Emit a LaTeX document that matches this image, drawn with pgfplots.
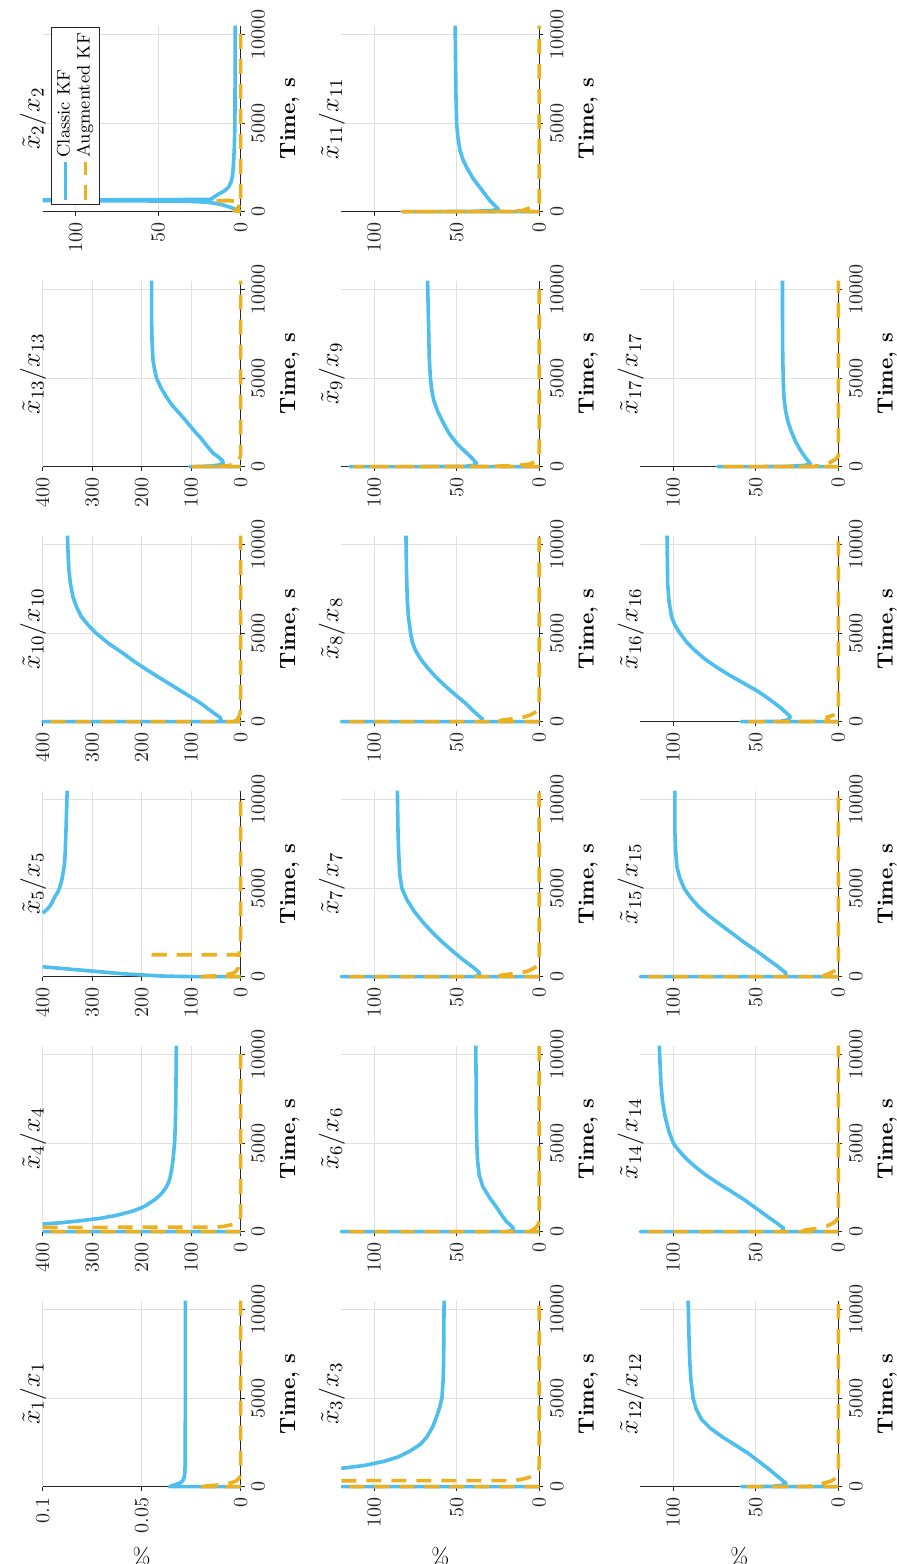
\RequirePackage{fix-cm}
\documentclass[border=0pt]{standalone}
\usepackage{pgfplots}
\pgfplotsset{compat=1.18}
\definecolor{kfblue}{RGB}{77,190,238}
\definecolor{kforange}{RGB}{237,177,32}
\tikzset{
  kfb/.style={color=kfblue, line width=1.8pt, line join=round},
  kfo/.style={color=kforange, line width=1.8pt, line join=round, dash pattern=on 7.5pt off 5pt},
}
\pgfplotsset{
  kfbase/.style={
    scale only axis, width=93pt, height=99pt, anchor=south west,
    xmin=0, xmax=10500, ymin=0,
    xtick={0,5000,10000}, scaled x ticks=false, scaled y ticks=false,
    xticklabel style={/pgf/number format/1000 sep={}},
    axis lines*=left,
    axis line style={black!85, line width=0.5pt},
    tick style={black!85, line width=0.5pt}, tick align=outside, major tick length=2pt,
    grid=major, grid style={black!12, line width=0.5pt},
    tick label style={font=\fontsize{10}{12}\selectfont, color=black!85},
    every axis title/.style={at={(axis description cs:0.5,1.015)}, anchor=base, font=\fontsize{13}{15}\selectfont},
    xlabel={\textbf{Time, s}},
    every axis x label/.style={at={(axis description cs:0.5,0)}, anchor=base, yshift=-27.2pt, font=\fontsize{11}{13}\selectfont},
    every axis y label/.style={at={(axis description cs:-0.372,0.5)}, anchor=center, rotate=90, font=\fontsize{11}{13}\selectfont},
    clip=false, unbounded coords=jump,
  },
  y400/.style={ymax=400, ytick={0,100,200,300,400}},
  y120/.style={ymax=120, ytick={0,50,100}},
}
\begin{document}
\begin{tikzpicture}
\useasboundingbox (-448.5pt,0pt) rectangle (0pt,782pt);
\begin{pgfinterruptboundingbox}
\begin{scope}[transform canvas={rotate=90}]
% ---------------- row 1 ----------------
\begin{axis}[kfbase, at={(38.65pt,328.15pt)}, ymax=0.1, ytick={0,0.05,0.1},
  yticklabel style={/pgf/number format/fixed}, title={$\tilde{x}_{1}/x_{1}$}, ylabel={\%}]
\addplot[kfb] coordinates {(0,0)(0,0.036)(40,0.0352)(100,0.0335)(170,0.0315)(250,0.0302)(350,0.0292)(500,0.0286)(800,0.0282)(1500,0.028)(10500,0.0279)};
\addplot[kfo] coordinates {(0,0)(0,0.022)(30,0.018)(80,0.013)(150,0.008)(230,0.0045)(330,0.0022)(450,0.001)(600,0.0003)(800,0)(10500,0)};
\end{axis}
\begin{axis}[kfbase, y400, at={(166.15pt,328.15pt)}, title={$\tilde{x}_{4}/x_{4}$}]
\addplot[kfb] coordinates {(0,0)(0,400)(200,nan)(430,400)(500,365)(600,330)(750,285)(900,255)(1000,240)(1150,220)(1310,204)(1450,193)(1600,185)(1800,174)(2060,163)(2400,153)(2700,147)(3000,143)(3500,139.5)(4000,137)(5000,133.5)(6000,132)(7500,131)(10500,130)};
\addplot[kfo] coordinates {(0,0)(0,400)(100,nan)(243,400)(255,48)(300,35)(350,25)(400,17)(450,11)(520,6)(600,3)(700,1.2)(800,0.5)(1000,0)(10500,0)};
\end{axis}
\begin{axis}[kfbase, y400, at={(293.65pt,328.15pt)}, title={$\tilde{x}_{5}/x_{5}$}]
\addplot[kfb] coordinates {(0,0)(0,90)(15,125)(40,160)(94,197)(170,240)(280,285)(400,335)(480,368)(560,400)(2000,nan)(3590,400)(3800,391)(4000,385)(4250,380)(4490,376)(4750,370)(5000,366)(5500,361)(6000,358)(6360,356)(7000,354.5)(8230,353)(10500,350.5)};
\addplot[kfo] coordinates {(0,0)(0,90)(25,68)(60,45)(100,32)(150,22)(220,14)(300,10)(400,7)(500,5)(700,3.5)(900,3)(1230,3)(1240,190)(1250,5)(1330,3)(1400,2)(1550,1)(1700,0)(10500,0)};
\end{axis}
\begin{axis}[kfbase, y400, at={(421.15pt,328.15pt)}, title={$\tilde{x}_{10}/x_{10}$}]
\addplot[kfb] coordinates {(0,0)(0,400)(0,45)(60,40)(150,40)(250,42)(500,55)(750,67)(1066,82)(1500,107)(2000,136)(2500,165)(2936,190)(3400,215)(3870,238)(4400,266)(4993,292)(5450,308)(5930,322)(6500,332)(7050,339)(7800,344)(8550,347)(9300,348.5)(10500,350)};
\addplot[kfo] coordinates {(0,0)(0,400)(0,nan)(0,15)(50,11)(100,8)(200,5)(300,3)(450,1.5)(600,0.5)(900,0)(10500,0)};
\end{axis}
\begin{axis}[kfbase, y400, at={(548.65pt,328.15pt)}, title={$\tilde{x}_{13}/x_{13}$}]
\addplot[kfb] coordinates {(0,0)(0,103)(15,80)(40,60)(90,45)(187,35)(350,37)(550,45)(748,55)(1000,63)(1300,72)(1600,80)(1870,89)(2200,99)(2600,111)(2990,123)(3450,138)(3930,150)(4450,161)(5000,170)(5500,174)(5980,177)(7000,179)(8230,180)(10500,180)};
\addplot[kfo] coordinates {(0,0)(0,100)(10,60)(20,40)(60,25)(150,12)(250,6)(400,3)(550,1)(700,0)(10500,0)};
\end{axis}
\begin{axis}[kfbase, y120, at={(676.15pt,328.15pt)}, title={$\tilde{x}_{2}/x_{2}$},
  legend style={at={(axis description cs:0.036,0.9576)}, anchor=north west, draw=black!85, line width=0.5pt,
    fill=white, font=\fontsize{9}{10}\selectfont, inner xsep=1.5pt, inner ysep=2pt, row sep=0pt,
    nodes={inner xsep=1.2pt, inner ysep=0pt, text height=7pt, text depth=3pt}},
  legend cell align=left,
  legend image code/.code={\draw[#1] (0pt,0pt) -- (19pt,0pt);}]
\addplot[kfb] coordinates {(0,0)(100,2)(200,5)(300,8)(400,11.5)(480,16)(540,21)(580,30)(610,60)(625,120)(640,nan)(660,120)(680,40)(700,18)(840,16)(1030,12.7)(1200,9.5)(1400,7.2)(1700,5.8)(2000,5)(2520,4.5)(3500,3.9)(5000,3.5)(7500,3.4)(10500,3.3)};
\addlegendentry{Classic KF}
\addplot[kfo] coordinates {(0,0)(50,4)(150,2)(400,0.5)(600,0.5)(620,17)(640,0.5)(800,0)(10500,0)};
\addlegendentry{Augmented KF}
\end{axis}
% ---------------- row 2 ----------------
\begin{axis}[kfbase, y120, at={(38.65pt,178.85pt)}, title={$\tilde{x}_{3}/x_{3}$}, ylabel={\%}]
\addplot[kfb] coordinates {(0,0)(0,120)(500,nan)(1035,120)(1200,106)(1433,94)(1700,85)(2030,78)(2400,72)(2826,68)(3400,64.5)(4020,62)(4500,60.3)(5015,59)(6000,58.3)(7000,58)(10500,57.7)};
\addplot[kfo] coordinates {(0,0)(0,120)(200,nan)(338,120)(345,15.7)(400,12)(450,9)(520,6.3)(600,4)(700,2.5)(800,1.5)(900,0.8)(1000,0.3)(1200,0)(10500,0)};
\end{axis}
\begin{axis}[kfbase, y120, at={(166.15pt,178.85pt)}, title={$\tilde{x}_{6}/x_{6}$}]
\addplot[kfb] coordinates {(0,0)(0,120)(0,20)(60,16.5)(200,15.7)(380,17.5)(560,19.8)(900,22.5)(1360,25.8)(1900,30)(2560,34.3)(3200,36.4)(4000,37.4)(5000,37.9)(6500,38.2)(8560,38.3)(10500,38.5)};
\addplot[kfo] coordinates {(0,0)(0,120)(0,nan)(0,6)(50,5)(100,4)(200,2.5)(300,1.5)(400,0.7)(500,0.3)(700,0)(10500,0)};
\end{axis}
\begin{axis}[kfbase, y120, at={(293.65pt,178.85pt)}, title={$\tilde{x}_{7}/x_{7}$}]
\addplot[kfb] coordinates {(0,0)(0,120)(0,40)(60,37)(189,36)(450,39)(700,42.5)(943,46)(1400,52)(1887,58)(2450,64.3)(3019,70)(3650,75.5)(4340,80.2)(5000,83.3)(5800,84.6)(7170,85.3)(8500,85.7)(10500,86)};
\addplot[kfo] coordinates {(0,0)(0,120)(0,nan)(0,25)(50,24)(100,22)(170,16)(250,10)(320,7)(400,5)(500,3)(600,1.5)(700,0.7)(800,0.3)(1000,0)(10500,0)};
\end{axis}
\begin{axis}[kfbase, y120, at={(421.15pt,178.85pt)}, title={$\tilde{x}_{8}/x_{8}$}]
\addplot[kfb] coordinates {(0,0)(0,120)(0,36)(50,35)(133,34.3)(400,37.5)(700,41)(985,44)(1450,50)(1930,56)(2500,62.5)(3070,68)(3550,72)(4015,75)(4500,77)(5000,78)(5900,79.3)(6860,80)(8500,80.5)(10500,80.8)};
\addplot[kfo] coordinates {(0,0)(0,120)(0,nan)(0,25)(50,24)(100,22)(170,16)(250,10)(320,7)(400,5)(500,3)(600,1.5)(700,0.7)(800,0.3)(1000,0)(10500,0)};
\end{axis}
\begin{axis}[kfbase, y120, at={(548.65pt,178.85pt)}, title={$\tilde{x}_{9}/x_{9}$}]
\addplot[kfb] coordinates {(0,0)(0,114.7)(8,70)(20,45)(80,40)(188,38)(500,41)(900,45.5)(1313,50)(1850,54.5)(2440,58)(3100,61.5)(3750,64)(4400,65.3)(5000,66)(6200,66.7)(7500,67)(10500,67.7)};
\addplot[kfo] coordinates {(0,0)(0,112)(8,60)(20,30)(60,16)(100,10)(150,6)(250,3)(400,1)(600,0)(10500,0)};
\end{axis}
\begin{axis}[kfbase, y120, at={(676.15pt,178.85pt)}, title={$\tilde{x}_{11}/x_{11}$}]
\addplot[kfb] coordinates {(0,0)(0,83)(8,55)(20,40)(60,29)(150,24.8)(380,27.3)(619,29.9)(1000,33)(1370,36)(1900,40.3)(2495,44)(2950,46.3)(3433,48)(4200,49.3)(4971,50.1)(6500,50.5)(8123,50.7)(10500,51)};
\addplot[kfo] coordinates {(0,0)(0,83)(8,35)(20,15)(70,10)(150,8)(220,5)(300,2)(400,0.7)(500,0)(10500,0)};
\end{axis}
% ---------------- row 3 ----------------
\begin{axis}[kfbase, y120, at={(38.65pt,29.35pt)}, title={$\tilde{x}_{12}/x_{12}$}, ylabel={\%}]
\addplot[kfb] coordinates {(0,0)(0,58.6)(8,48)(20,40)(80,34)(190,31.7)(600,37)(1045,42.8)(1450,48.5)(1900,54.8)(2380,63)(2850,70.9)(3300,77.5)(3800,82.9)(4400,86.2)(5000,88)(6000,89.3)(7030,90)(8500,90.5)(10500,91)};
\addplot[kfo] coordinates {(0,0)(0,58)(8,30)(20,18)(60,15.5)(100,14)(200,9)(300,5)(400,2.8)(500,1.5)(600,0.6)(700,0)(10500,0)};
\end{axis}
\begin{axis}[kfbase, y120, at={(166.15pt,29.35pt)}, title={$\tilde{x}_{14}/x_{14}$}]
\addplot[kfb] coordinates {(0,0)(0,120)(0,35)(50,34)(189,33.1)(500,37.5)(849,42.8)(1300,49.5)(1793,56.8)(2250,64.5)(2736,72.9)(3200,80.3)(3680,86.9)(4150,92.5)(4623,97)(5000,100)(5700,102.8)(6510,105)(7400,106.6)(8397,107.5)(10500,108.5)};
\addplot[kfo] coordinates {(0,0)(0,120)(0,nan)(0,22)(50,21)(100,20)(170,14)(250,10)(320,7)(400,5)(500,3)(600,1.5)(700,0.7)(800,0.3)(1000,0)(10500,0)};
\end{axis}
\begin{axis}[kfbase, y120, at={(293.65pt,29.35pt)}, title={$\tilde{x}_{15}/x_{15}$}]
\addplot[kfb] coordinates {(0,0)(0,120)(0,33)(60,32)(205,31.7)(600,37)(989,42.8)(1450,49.5)(1922,56.8)(2480,64.8)(3042,72.9)(3500,79.2)(3975,84.9)(4500,89.8)(5000,93.5)(5600,96.2)(6214,97.8)(7000,98.5)(8080,99)(10500,99)};
\addplot[kfo] coordinates {(0,0)(0,120)(0,nan)(0,10)(50,9)(100,8)(170,5.5)(250,4)(320,2.3)(400,1)(500,0.4)(600,0)(10500,0)};
\end{axis}
\begin{axis}[kfbase, y120, at={(421.15pt,29.35pt)}, title={$\tilde{x}_{16}/x_{16}$}]
\addplot[kfb] coordinates {(0,0)(0,59)(8,45)(20,35)(100,30.5)(281,29)(750,34.5)(1217,41)(1700,48.5)(2154,57)(2600,65.5)(3090,74)(3550,81)(4027,87)(4500,92)(5000,96)(5450,99)(5900,101)(6800,102.6)(7773,103.4)(10500,103.8)};
\addplot[kfo] coordinates {(0,0)(0,57)(8,30)(20,15)(60,9)(100,6)(170,6)(250,7)(320,4.5)(400,2)(500,0.7)(600,0)(10500,0)};
\end{axis}
\begin{axis}[kfbase, y120, at={(548.65pt,29.35pt)}, title={$\tilde{x}_{17}/x_{17}$}]
\addplot[kfb] coordinates {(0,0)(0,73)(8,45)(20,30)(80,20)(187,17)(500,19.8)(935,23)(1400,25.8)(1870,28)(2500,30.4)(3180,32)(4000,33)(5000,33.4)(6500,33.7)(8430,33.8)(10500,33.8)};
\addplot[kfo] coordinates {(0,0)(0,71)(8,32)(20,15)(80,10)(200,6)(300,3.8)(400,2)(500,0.8)(600,0)(10500,0)};
\end{axis}
\end{scope}
\end{pgfinterruptboundingbox}
\end{tikzpicture}
\end{document}
